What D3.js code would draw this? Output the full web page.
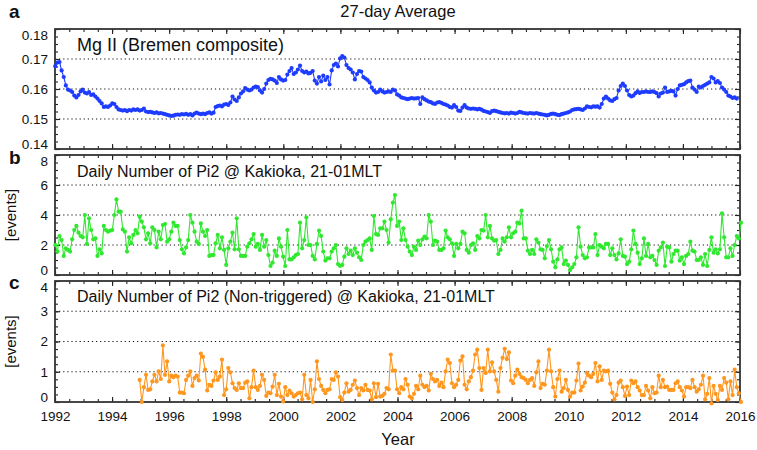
<!DOCTYPE html>
<html><head><meta charset="utf-8">
<script src="https://cdn.jsdelivr.net/npm/d3@7"></script>
<style>
body{margin:0;background:#fff}
text{font-family:"Liberation Sans",Arial,Helvetica,sans-serif;fill:#111}
</style></head>
<body><svg id="chart" width="757" height="450"></svg>
<script>
// ---- data ----
const startYear = 1992.01;
const periodDays = 27;
const yearTicks = [1992,1994,1996,1998,2000,2002,2004,2006,2008,2010,2012,2014,2016];
const mgTicks = [0.14,0.15,0.16,0.17,0.18];
const pi2Ticks = [0,2,4,6,8];
const nonTrigTicks = [0,1,2,3,4];

const mgII = [
0.1676,0.1688,0.1690,0.1662,0.1640,0.1612,0.1598,0.1595,0.1590,0.1578,
0.1572,0.1580,0.1592,0.1598,0.1588,0.1585,0.1590,0.1580,0.1582,0.1575,
0.1568,0.1560,0.1552,0.1540,0.1542,0.1540,0.1545,0.1552,0.1550,0.1540,
0.1532,0.1530,0.1528,0.1530,0.1526,0.1530,0.1528,0.1532,0.1530,0.1532,
0.1528,0.1530,0.1535,0.1525,0.1523,0.1524,0.1522,0.1520,0.1522,0.1519,
0.1520,0.1518,0.1516,0.1514,0.1512,0.1510,0.1511,0.1514,0.1515,0.1514,
0.1516,0.1515,0.1517,0.1514,0.1516,0.1512,0.1518,0.1521,0.1518,0.1516,
0.1518,0.1516,0.1520,0.1522,0.1518,0.1521,0.1540,0.1543,0.1545,0.1542,
0.1548,0.1550,0.1547,0.1555,0.1575,0.1565,0.1560,0.1572,0.1585,0.1592,
0.1603,0.1598,0.1595,0.1598,0.1605,0.1608,0.1606,0.1595,0.1588,0.1600,
0.1618,0.1630,0.1634,0.1632,0.1628,0.1620,0.1640,0.1632,0.1628,0.1630,
0.1648,0.1660,0.1670,0.1650,0.1655,0.1665,0.1678,0.1660,0.1655,0.1658,
0.1652,0.1654,0.1660,0.1628,0.1618,0.1640,0.1625,0.1645,0.1630,0.1640,
0.1615,0.1662,0.1680,0.1685,0.1675,0.1702,0.1710,0.1705,0.1680,0.1670,
0.1665,0.1655,0.1632,0.1650,0.1660,0.1658,0.1640,0.1635,0.1630,0.1622,
0.1605,0.1595,0.1588,
0.1590,0.1598,0.1592,0.1588,0.1590,0.1592,0.1590,0.1598,0.1595,0.1582,
0.1578,0.1572,0.1570,0.1568,0.1566,0.1568,0.1570,0.1568,0.1569,0.1570,
0.1550,0.1572,0.1566,0.1562,0.1558,0.1556,0.1552,0.1550,0.1555,0.1556,
0.1554,0.1550,0.1548,0.1545,0.1540,0.1538,0.1546,0.1540,0.1528,0.1527,
0.1538,0.1546,0.1538,0.1535,0.1534,0.1535,0.1534,0.1532,0.1534,0.1531,
0.1527,0.1525,0.1523,0.1520,0.1526,0.1528,0.1526,0.1524,0.1522,0.1520,
0.1519,0.1520,0.1518,0.1521,0.1520,0.1518,0.1520,0.1524,0.1522,0.1520,
0.1519,0.1518,0.1520,0.1519,0.1518,0.1520,0.1518,0.1516,0.1515,0.1514,
0.1512,0.1514,0.1517,0.1518,0.1516,0.1514,0.1513,0.1516,0.1518,0.1520,
0.1522,0.1525,0.1530,0.1532,0.1533,0.1534,0.1532,0.1530,0.1535,0.1542,
0.1540,0.1539,0.1542,0.1541,0.1542,0.1538,0.1550,0.1568,0.1575,0.1568,
0.1562,0.1560,0.1566,0.1570,0.1595,0.1610,0.1618,0.1610,0.1595,0.1580,
0.1575,0.1578,0.1586,0.1592,0.1587,0.1590,0.1590,0.1592,0.1590,0.1590,
0.1592,0.1590,0.1586,0.1575,0.1585,0.1588,0.1605,0.1590,0.1592,0.1594,
0.1592,0.1578,0.1600,0.1612,0.1614,0.1616,0.1622,0.1626,0.1628,0.1605,
0.1598,0.1590,0.1608,0.1605,0.1610,0.1614,0.1618,0.1622,0.1640,0.1635,
0.1622,0.1626,0.1620,0.1605,0.1598,0.1590,0.1578,0.1575,0.1570,0.1572,
0.1568
];

const pi2All = [
2.0,1.56,2.6,2.33,1.27,1.78,1.67,1.56,2.38,3.0,
3.27,2.82,2.6,2.51,4.0,2.07,3.78,3.0,2.38,2.44,
1.27,1.71,1.44,3.27,3.0,2.89,2.96,3.0,4.0,5.04,
4.22,4.22,3.04,2.89,1.56,2.51,2.11,2.67,3.0,2.78,
3.89,3.56,3.18,2.38,2.78,2.11,3.18,3.0,1.84,2.89,
2.38,3.33,3.4,2.22,2.38,2.89,3.49,3.27,3.27,2.33,
1.71,1.44,1.84,2.33,4.0,3.49,2.89,2.22,2.07,3.44,
2.89,2.6,3.0,1.27,1.33,1.33,2.11,2.67,1.78,2.51,
1.67,0.67,1.78,2.22,2.82,1.71,3.78,1.71,1.27,1.27,
1.27,1.89,2.11,2.38,2.73,1.89,2.07,1.67,2.67,1.89,
2.33,1.33,0.6,0.82,1.62,1.27,2.44,1.89,1.22,0.6,
3.0,1.04,1.04,1.18,1.33,1.4,3.49,1.78,2.33,3.84,
2.0,2.0,1.27,1.04,2.07,2.96,2.6,1.56,0.96,1.11,
1.11,1.56,1.78,2.0,0.73,0.6,0.67,1.22,1.78,1.4,
1.62,1.33,1.78,1.49,1.18,1.0,2.0,2.22,2.33,2.44,
1.67,3.93,2.73,2.67,3.11,3.11,3.56,3.0,2.16,3.71,
4.82,5.33,3.27,3.56,2.33,3.11,2.33,1.89,1.56,1.33,
1.89,1.67,2.29,2.0,2.38,2.56,2.44,4.0,3.56,2.0,
2.29,2.22,1.67,1.67,1.78,2.96,2.51,2.38,2.11,1.27,
2.07,1.78,2.07,2.89,2.78,1.67,1.49,2.0,2.11,1.67,
2.6,2.44,3.0,2.96,4.0,2.51,3.27,2.44,2.29,2.33,
1.4,1.67,2.44,2.22,2.51,3.18,2.51,2.78,
2.89,3.49,3.44,4.29,2.44,2.44,1.62,1.4,1.67,1.4,
2.38,2.16,1.71,1.67,1.11,1.93,2.33,1.71,0.89,0.51,
1.04,1.71,1.84,0.73,0.96,0.67,0.33,0.51,0.73,1.18,
3.18,1.89,1.33,1.11,1.18,1.84,1.84,1.84,2.73,1.33,
2.0,1.89,1.78,2.07,2.07,1.33,1.78,1.33,1.04,1.44,
2.38,1.27,1.22,0.73,0.89,1.71,2.96,2.07,1.49,0.73,
1.11,2.44,1.27,2.07,1.18,1.27,1.0,0.67,1.62,1.84,
2.16,0.6,1.89,1.84,0.89,1.4,1.62,1.62,0.96,1.18,
0.73,1.27,1.4,2.22,1.62,1.56,1.0,1.0,1.18,0.67,
1.4,0.6,1.67,2.51,1.49,1.71,1.44,1.71,4.11,2.51,
1.18,1.18,1.78,1.27,2.0,2.6,2.44,3.49
];

const nonTrigStartIndex = 40;
const pi2NonTrig = [
0.73,0.0,0.49,0.9,0.4,0.42,0.68,0.9,0.68,1.01,
0.76,1.87,0.9,1.34,0.68,0.87,0.82,0.87,0.84,0.31,
0.31,0.29,0.73,0.87,1.01,0.53,0.79,0.87,0.71,1.6,
1.49,1.07,0.38,0.57,0.53,0.71,0.98,0.73,0.84,1.4,
0.23,0.42,1.12,0.98,0.62,0.46,0.4,0.62,0.46,0.46,
0.64,0.68,0.12,0.49,1.04,0.49,0.4,0.53,0.9,0.73,
0.2,0.31,0.29,0.51,0.9,0.23,0.6,0.18,0.02,0.49,
0.23,0.38,0.29,0.18,0.23,0.29,0.31,0.09,0.9,0.23,
0.12,0.73,0.0,0.42,1.34,0.76,0.53,0.4,0.29,0.4,
0.42,0.76,0.73,0.98,0.84,
0.16,0.07,0.31,0.62,0.34,0.4,0.57,0.71,0.46,0.23,
0.46,0.38,0.57,0.4,0.38,0.09,0.62,0.16,0.6,0.18,
0.2,0.27,0.46,0.42,1.57,1.04,1.04,0.42,0.29,0.49,
0.42,0.76,0.57,0.18,0.12,0.27,0.53,0.42,0.87,0.57,
0.49,0.53,0.38,0.93,0.76,0.68,0.73,0.53,0.64,0.49,
1.01,1.4,1.29,0.62,0.49,0.57,0.73,1.37,1.51,0.57,
0.42,0.68,0.82,1.04,1.57,1.73,1.12,0.4,1.12,0.96,
1.73,1.01,1.31,1.01,0.73,0.34,1.12,1.46,1.76,1.42,
1.64,0.71,0.62,0.87,1.07,0.93,0.82,0.79,0.73,0.62,
0.73,0.79,0.53,0.98,1.34,0.46,
0.6,0.57,1.04,1.73,1.01,0.49,0.18,0.76,1.04,0.34,
0.46,0.73,0.4,0.18,0.31,0.31,0.71,1.27,0.38,0.51,
0.64,0.96,0.87,0.82,0.93,1.29,0.68,1.18,0.73,1.04,
1.01,1.04,0.6,0.31,0.09,0.23,0.64,0.71,0.49,0.2,
0.51,0.23,0.71,0.62,0.68,0.49,0.38,0.23,0.23,0.53,
0.38,0.12,0.49,0.29,0.31,0.87,0.49,0.73,0.49,0.51,
0.4,0.4,0.4,0.62,0.68,0.49,0.38,0.18,0.49,0.49,
0.46,0.73,0.49,0.34,0.42,0.57,0.87,0.09,0.27,0.79,
-0.05,0.53,0.27,0.07,0.53,0.4,0.79,0.64,0.09,0.68,
0.23,1.07,0.49,0.29,0.0
];

// ---- chart ----
const svg = d3.select("#chart");
const x = d3.scaleLinear().domain([1992, 2016]).range([55, 740]);
const yearOf = i => startYear + i * periodDays / 365.25;

const panels = [
  {letter:"a", top:29, bottom:149, domain:[0.14,0.18], ticks:mgTicks, minor:0.0025,
   fmt:d3.format(".2f"), values:mgII, offset:0, color:"#1e3cff",
   label:"Mg II (Bremen composite)", labelSize:18, labelY:51, letterY:18, ylabel:null},
  {letter:"b", top:155, bottom:275, domain:[0,8], ticks:pi2Ticks, minor:0.5,
   fmt:d3.format("d"), values:pi2All, offset:0, color:"#2fe82f",
   label:"Daily Number of Pi2 @ Kakioka, 21-01MLT", labelSize:16, labelY:177, letterY:164, ylabel:"[events]"},
  {letter:"c", top:281, bottom:402, domain:[0,4], ticks:nonTrigTicks, minor:0.25,
   fmt:d3.format("d"), values:pi2NonTrig, offset:nonTrigStartIndex, color:"#ff961e",
   label:"Daily Number of Pi2 (Non-triggered) @ Kakioka, 21-01MLT", labelSize:16, labelY:302, letterY:289, ylabel:"[events]"}
];

const minorYears = d3.range(1992, 2016.01, 0.5);

panels.forEach((p, pi) => {
  const y = d3.scaleLinear().domain(p.domain).range([p.bottom, p.top]);
  const g = svg.append("g");
  const minorVals = d3.range(p.domain[0], p.domain[1] + p.minor/2, p.minor);

  // grid
  g.selectAll("line.grid").data(p.ticks.filter(t => t > p.domain[0] && t < p.domain[1]))
    .join("line").attr("x1", x.range()[0]).attr("x2", x.range()[1])
    .attr("y1", d => y(d)).attr("y2", d => y(d))
    .attr("stroke", "#111").attr("stroke-width", 1.1).attr("stroke-dasharray", "1.2,2.9");

  const styleAxis = a => { a.select(".domain").remove(); a.selectAll("line").attr("stroke","#222").attr("stroke-width",1.1); };

  // y axes
  g.append("g").attr("transform", `translate(${x.range()[0]},0)`)
    .call(d3.axisLeft(y).tickValues(p.ticks).tickSize(-5).tickPadding(7).tickFormat(p.fmt))
    .call(styleAxis)
    .call(a => a.selectAll("text").attr("font-size", 13.5).attr("font-family", null).style("fill","#111")
      .attr("dy", d => d === p.domain[1] ? "0.75em" : d === p.domain[0] ? "-0.05em" : "0.32em"));
  g.append("g").attr("transform", `translate(${x.range()[0]},0)`)
    .call(d3.axisLeft(y).tickValues(minorVals).tickSize(-3).tickFormat("")).call(styleAxis);
  g.append("g").attr("transform", `translate(${x.range()[1]},0)`)
    .call(d3.axisRight(y).tickValues(p.ticks).tickSize(-5).tickFormat("")).call(styleAxis);
  g.append("g").attr("transform", `translate(${x.range()[1]},0)`)
    .call(d3.axisRight(y).tickValues(minorVals).tickSize(-3).tickFormat("")).call(styleAxis);

  // x axes
  const isLast = pi === panels.length - 1;
  g.append("g").attr("transform", `translate(0,${p.bottom})`)
    .call(d3.axisBottom(x).tickValues(yearTicks).tickSize(-5).tickPadding(9).tickFormat(isLast ? d3.format("d") : ""))
    .call(styleAxis).call(a => a.selectAll("text").attr("font-size", 13.5).attr("font-family", null).style("fill","#111"));
  g.append("g").attr("transform", `translate(0,${p.bottom})`)
    .call(d3.axisBottom(x).tickValues(minorYears).tickSize(-3).tickFormat("")).call(styleAxis);
  g.append("g").attr("transform", `translate(0,${p.top})`)
    .call(d3.axisTop(x).tickValues(yearTicks).tickSize(-5).tickFormat("")).call(styleAxis);
  g.append("g").attr("transform", `translate(0,${p.top})`)
    .call(d3.axisTop(x).tickValues(minorYears).tickSize(-3).tickFormat("")).call(styleAxis);

  // frame
  g.append("rect").attr("x", x.range()[0]).attr("y", p.top)
    .attr("width", x.range()[1] - x.range()[0]).attr("height", p.bottom - p.top)
    .attr("fill", "none").attr("stroke", "#333").attr("stroke-width", 1.8);

  // data
  const pts = p.values.map((v, i) => ({t: yearOf(i + p.offset), v}));
  const line = d3.line().x(d => x(d.t)).y(d => y(d.v));
  g.append("path").datum(pts).attr("d", line).attr("fill", "none")
    .attr("stroke", p.color).attr("stroke-width", 1.1);
  g.selectAll("circle").data(pts).join("circle")
    .attr("cx", d => x(d.t)).attr("cy", d => y(d.v)).attr("r", 2.1).attr("fill", p.color);

  // labels
  g.append("text").attr("x", 77).attr("y", p.labelY).attr("font-size", p.labelSize).text(p.label);
  g.append("text").attr("x", 9).attr("y", p.letterY).attr("font-size", 19).attr("font-weight", "bold").text(p.letter);
  if (p.ylabel) {
    g.append("text").attr("transform", `translate(16,${(p.top + p.bottom) / 2}) rotate(-90)`)
      .attr("text-anchor", "middle").attr("font-size", 15).text(p.ylabel);
  }
});

svg.append("text").attr("x", 398).attr("y", 17).attr("text-anchor", "middle").attr("font-size", 16.5).text("27-day Average");
svg.append("text").attr("x", 398).attr("y", 445).attr("text-anchor", "middle").attr("font-size", 16.5).text("Year");
</script></body></html>
